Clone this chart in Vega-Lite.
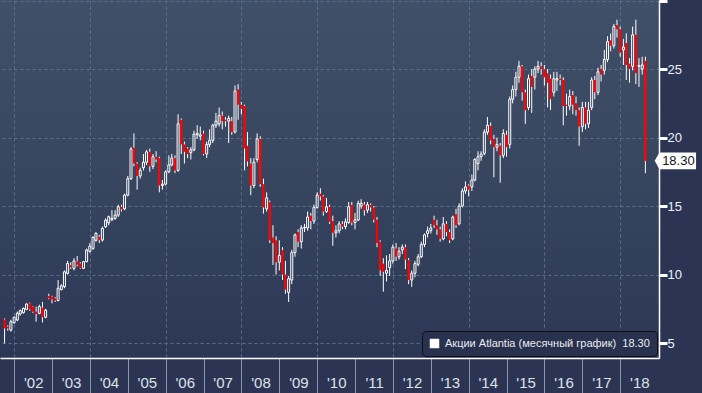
{
  "$schema": "https://vega.github.io/schema/vega-lite/v6.json",
  "width": 659,
  "height": 358,
  "autosize": {"type": "none"},
  "padding": {"left": 0, "top": 0, "right": 43, "bottom": 35},
  "background": "#2b3553",
  "view": {"stroke": null, "fill": {"gradient": "linear", "x1": 0, "y1": 0, "x2": 0, "y2": 1, "stops": [{"offset": 0, "color": "#415069"}, {"offset": 0.5, "color": "#37455f"}, {"offset": 1, "color": "#2c3755"}]}},
  "config": {"font": "Liberation Sans"},
  "data": {"values": [
    {"date":"2001-09-30","open":6.73,"high":6.8,"low":4.98,"close":6.07},
    {"date":"2001-10-31","open":6.2,"high":6.3,"low":5.9,"close":6.07},
    {"date":"2001-11-30","open":5.95,"high":6.7,"low":5.83,"close":6.56},
    {"date":"2001-12-31","open":6.49,"high":6.95,"low":6.4,"close":6.88},
    {"date":"2002-01-31","open":6.68,"high":7.3,"low":6.6,"close":7.17},
    {"date":"2002-02-28","open":7.12,"high":7.45,"low":7.0,"close":7.37},
    {"date":"2002-03-31","open":7.22,"high":7.6,"low":7.15,"close":7.53},
    {"date":"2002-04-30","open":7.46,"high":7.9,"low":7.4,"close":7.85},
    {"date":"2002-05-31","open":7.9,"high":7.95,"low":7.35,"close":7.46},
    {"date":"2002-06-30","open":7.66,"high":7.7,"low":7.2,"close":7.29},
    {"date":"2002-07-31","open":7.29,"high":7.66,"low":6.56,"close":7.12},
    {"date":"2002-08-31","open":7.17,"high":7.8,"low":7.1,"close":7.66},
    {"date":"2002-09-30","open":7.58,"high":8.0,"low":6.5,"close":6.88},
    {"date":"2002-10-31","open":6.88,"high":7.5,"low":6.8,"close":7.4},
    {"date":"2002-11-30","open":8.44,"high":8.6,"low":8.2,"close":8.27},
    {"date":"2002-12-31","open":8.39,"high":8.45,"low":7.9,"close":8.19},
    {"date":"2003-01-31","open":8.27,"high":8.35,"low":8.0,"close":8.1},
    {"date":"2003-02-28","open":8.1,"high":9.6,"low":8.05,"close":9.0},
    {"date":"2003-03-31","open":8.9,"high":9.3,"low":8.85,"close":9.17},
    {"date":"2003-04-30","open":9.12,"high":10.3,"low":9.0,"close":10.2},
    {"date":"2003-05-31","open":10.09,"high":11.0,"low":10.0,"close":10.81},
    {"date":"2003-06-30","open":10.69,"high":10.9,"low":10.4,"close":10.52},
    {"date":"2003-07-31","open":10.45,"high":11.2,"low":10.3,"close":10.99},
    {"date":"2003-08-31","open":10.96,"high":11.35,"low":10.6,"close":10.72},
    {"date":"2003-09-30","open":10.81,"high":10.9,"low":10.4,"close":10.45},
    {"date":"2003-10-31","open":10.45,"high":11.0,"low":10.4,"close":10.94},
    {"date":"2003-11-30","open":10.94,"high":11.9,"low":10.9,"close":11.79},
    {"date":"2003-12-31","open":11.69,"high":12.3,"low":11.6,"close":12.08},
    {"date":"2004-01-31","open":11.91,"high":12.8,"low":11.8,"close":12.71},
    {"date":"2004-02-28","open":12.5,"high":13.1,"low":12.4,"close":13.0},
    {"date":"2004-03-31","open":12.76,"high":12.9,"low":12.3,"close":12.52},
    {"date":"2004-04-30","open":12.52,"high":13.5,"low":12.4,"close":13.37},
    {"date":"2004-05-31","open":13.49,"high":14.1,"low":13.4,"close":13.97},
    {"date":"2004-06-30","open":13.78,"high":14.3,"low":13.6,"close":14.22},
    {"date":"2004-07-31","open":14.0,"high":14.7,"low":13.9,"close":14.1},
    {"date":"2004-08-31","open":14.1,"high":14.7,"low":14.0,"close":14.34},
    {"date":"2004-09-30","open":14.34,"high":15.1,"low":14.2,"close":14.95},
    {"date":"2004-10-31","open":14.95,"high":15.1,"low":14.6,"close":14.76},
    {"date":"2004-11-30","open":14.8,"high":15.9,"low":14.7,"close":15.8},
    {"date":"2004-12-31","open":15.8,"high":17.2,"low":15.7,"close":17.0},
    {"date":"2005-01-31","open":17.0,"high":19.3,"low":16.9,"close":19.16},
    {"date":"2005-02-28","open":19.26,"high":20.3,"low":17.9,"close":18.1},
    {"date":"2005-03-31","open":18.1,"high":18.2,"low":16.2,"close":17.2},
    {"date":"2005-04-30","open":17.2,"high":17.8,"low":17.0,"close":17.6},
    {"date":"2005-05-31","open":17.8,"high":18.8,"low":17.6,"close":18.2},
    {"date":"2005-06-30","open":18.2,"high":19.1,"low":18.0,"close":18.96},
    {"date":"2005-07-31","open":18.96,"high":19.2,"low":17.5,"close":17.9},
    {"date":"2005-08-31","open":17.9,"high":18.8,"low":17.7,"close":18.6},
    {"date":"2005-09-30","open":18.6,"high":19.0,"low":18.2,"close":18.4},
    {"date":"2005-10-31","open":18.5,"high":18.6,"low":16.0,"close":16.5},
    {"date":"2005-11-30","open":16.5,"high":16.9,"low":16.2,"close":16.6},
    {"date":"2005-12-31","open":16.6,"high":17.6,"low":16.5,"close":17.5},
    {"date":"2006-01-31","open":17.5,"high":18.7,"low":17.4,"close":18.0},
    {"date":"2006-02-28","open":18.0,"high":18.8,"low":17.9,"close":18.5},
    {"date":"2006-03-31","open":18.5,"high":18.7,"low":17.4,"close":17.6},
    {"date":"2006-04-30","open":17.6,"high":21.7,"low":17.5,"close":21.0},
    {"date":"2006-05-31","open":21.3,"high":21.4,"low":18.8,"close":19.5},
    {"date":"2006-06-30","open":19.5,"high":19.7,"low":18.1,"close":18.96},
    {"date":"2006-07-31","open":19.2,"high":19.3,"low":18.5,"close":18.8},
    {"date":"2006-08-31","open":18.9,"high":19.3,"low":18.4,"close":19.1},
    {"date":"2006-09-30","open":19.1,"high":20.5,"low":19.0,"close":20.25},
    {"date":"2006-10-31","open":20.2,"high":20.9,"low":19.9,"close":20.3},
    {"date":"2006-11-30","open":20.1,"high":20.8,"low":19.8,"close":20.2},
    {"date":"2006-12-31","open":20.3,"high":20.5,"low":18.7,"close":18.8},
    {"date":"2007-01-31","open":18.8,"high":19.7,"low":18.5,"close":19.5},
    {"date":"2007-02-28","open":19.5,"high":20.6,"low":19.3,"close":19.8},
    {"date":"2007-03-31","open":19.8,"high":21.0,"low":19.6,"close":20.9},
    {"date":"2007-04-30","open":20.9,"high":21.8,"low":20.7,"close":21.2},
    {"date":"2007-05-31","open":21.0,"high":22.2,"low":20.8,"close":21.6},
    {"date":"2007-06-30","open":21.6,"high":21.9,"low":20.6,"close":21.2},
    {"date":"2007-07-31","open":21.3,"high":21.5,"low":20.8,"close":21.2},
    {"date":"2007-08-31","open":21.2,"high":21.6,"low":19.6,"close":21.4},
    {"date":"2007-09-30","open":21.2,"high":21.5,"low":20.2,"close":20.4},
    {"date":"2007-10-31","open":20.4,"high":23.8,"low":20.3,"close":23.4},
    {"date":"2007-11-30","open":23.5,"high":23.9,"low":21.3,"close":22.4},
    {"date":"2007-12-31","open":22.4,"high":22.6,"low":21.7,"close":22.1},
    {"date":"2008-01-31","open":22.3,"high":22.4,"low":17.6,"close":19.2},
    {"date":"2008-02-28","open":19.4,"high":20.4,"low":17.9,"close":18.25},
    {"date":"2008-03-31","open":18.1,"high":18.5,"low":15.8,"close":16.5},
    {"date":"2008-04-30","open":16.5,"high":18.5,"low":16.3,"close":18.2},
    {"date":"2008-05-31","open":18.4,"high":20.3,"low":18.2,"close":19.9},
    {"date":"2008-06-30","open":19.9,"high":20.1,"low":16.4,"close":16.6},
    {"date":"2008-07-31","open":16.6,"high":17.0,"low":14.45,"close":14.9},
    {"date":"2008-08-31","open":14.8,"high":16.0,"low":14.6,"close":15.6},
    {"date":"2008-09-30","open":15.3,"high":15.4,"low":12.3,"close":12.5},
    {"date":"2008-10-31","open":12.7,"high":13.6,"low":10.7,"close":12.3},
    {"date":"2008-11-30","open":12.5,"high":12.8,"low":10.0,"close":10.9},
    {"date":"2008-12-31","open":10.9,"high":12.5,"low":10.3,"close":11.4},
    {"date":"2009-01-31","open":11.8,"high":12.0,"low":9.6,"close":10.0},
    {"date":"2009-02-28","open":10.0,"high":11.0,"low":8.6,"close":8.9},
    {"date":"2009-03-31","open":8.7,"high":9.9,"low":8.0,"close":9.7},
    {"date":"2009-04-30","open":9.6,"high":11.8,"low":9.3,"close":11.6},
    {"date":"2009-05-31","open":11.6,"high":13.0,"low":11.3,"close":12.9},
    {"date":"2009-06-30","open":13.1,"high":13.3,"low":12.0,"close":12.4},
    {"date":"2009-07-31","open":12.4,"high":13.6,"low":11.9,"close":13.4},
    {"date":"2009-08-31","open":13.4,"high":13.7,"low":13.1,"close":13.45},
    {"date":"2009-09-30","open":13.4,"high":14.6,"low":13.2,"close":14.2},
    {"date":"2009-10-31","open":14.3,"high":14.5,"low":13.3,"close":13.9},
    {"date":"2009-11-30","open":13.9,"high":15.1,"low":13.7,"close":14.9},
    {"date":"2009-12-31","open":14.9,"high":16.0,"low":14.8,"close":15.8},
    {"date":"2010-01-31","open":15.9,"high":16.3,"low":15.4,"close":15.7},
    {"date":"2010-02-28","open":15.7,"high":15.8,"low":14.3,"close":14.6},
    {"date":"2010-03-31","open":14.6,"high":15.6,"low":14.5,"close":14.95},
    {"date":"2010-04-30","open":14.95,"high":15.1,"low":13.7,"close":13.85},
    {"date":"2010-05-31","open":13.9,"high":14.3,"low":12.1,"close":13.05},
    {"date":"2010-06-30","open":13.05,"high":13.6,"low":12.7,"close":13.2},
    {"date":"2010-07-31","open":13.2,"high":13.9,"low":13.0,"close":13.7},
    {"date":"2010-08-31","open":13.7,"high":13.9,"low":13.3,"close":13.5},
    {"date":"2010-09-30","open":13.5,"high":14.1,"low":13.3,"close":13.85},
    {"date":"2010-10-31","open":13.8,"high":15.3,"low":13.7,"close":14.95},
    {"date":"2010-11-30","open":15.07,"high":15.3,"low":13.6,"close":13.8},
    {"date":"2010-12-31","open":13.8,"high":14.5,"low":13.3,"close":14.0},
    {"date":"2011-01-31","open":13.98,"high":15.4,"low":13.9,"close":15.2},
    {"date":"2011-02-28","open":15.0,"high":15.5,"low":14.8,"close":15.2},
    {"date":"2011-03-31","open":15.1,"high":15.3,"low":14.3,"close":14.7},
    {"date":"2011-04-30","open":14.7,"high":15.3,"low":14.5,"close":15.1},
    {"date":"2011-05-31","open":15.1,"high":15.2,"low":14.6,"close":14.9},
    {"date":"2011-06-30","open":14.9,"high":15.0,"low":13.8,"close":14.0},
    {"date":"2011-07-31","open":14.0,"high":14.2,"low":12.0,"close":12.3},
    {"date":"2011-08-31","open":12.4,"high":12.5,"low":9.9,"close":10.3},
    {"date":"2011-09-30","open":10.8,"high":11.2,"low":8.75,"close":10.2},
    {"date":"2011-10-31","open":10.1,"high":11.4,"low":9.5,"close":10.3},
    {"date":"2011-11-30","open":10.5,"high":11.5,"low":9.9,"close":11.0},
    {"date":"2011-12-31","open":11.0,"high":12.2,"low":10.8,"close":12.0},
    {"date":"2012-01-31","open":11.9,"high":12.3,"low":11.0,"close":11.3},
    {"date":"2012-02-28","open":11.3,"high":12.0,"low":11.1,"close":11.7},
    {"date":"2012-03-31","open":11.8,"high":12.2,"low":11.5,"close":12.0},
    {"date":"2012-04-30","open":12.0,"high":12.2,"low":10.4,"close":11.1},
    {"date":"2012-05-31","open":11.05,"high":11.2,"low":9.3,"close":9.6},
    {"date":"2012-06-30","open":9.6,"high":10.3,"low":9.1,"close":10.1},
    {"date":"2012-07-31","open":10.1,"high":11.0,"low":9.8,"close":10.8},
    {"date":"2012-08-31","open":10.75,"high":11.5,"low":10.6,"close":11.3},
    {"date":"2012-09-30","open":11.3,"high":12.4,"low":11.2,"close":12.2},
    {"date":"2012-10-31","open":12.2,"high":13.0,"low":12.0,"close":12.9},
    {"date":"2012-11-30","open":13.0,"high":13.5,"low":12.7,"close":13.2},
    {"date":"2012-12-31","open":13.2,"high":13.7,"low":13.0,"close":13.4},
    {"date":"2013-01-31","open":14.0,"high":14.3,"low":13.4,"close":13.6},
    {"date":"2013-02-28","open":13.6,"high":14.0,"low":12.9,"close":13.3},
    {"date":"2013-03-31","open":13.3,"high":13.5,"low":12.4,"close":12.6},
    {"date":"2013-04-30","open":12.6,"high":14.2,"low":12.5,"close":13.7},
    {"date":"2013-05-31","open":13.7,"high":13.9,"low":12.8,"close":13.1},
    {"date":"2013-06-30","open":13.1,"high":13.3,"low":12.3,"close":12.5},
    {"date":"2013-07-31","open":12.6,"high":14.3,"low":12.5,"close":14.2},
    {"date":"2013-08-31","open":14.4,"high":14.8,"low":13.4,"close":13.6},
    {"date":"2013-09-30","open":13.7,"high":15.2,"low":13.6,"close":15.0},
    {"date":"2013-10-31","open":15.0,"high":16.3,"low":14.9,"close":16.1},
    {"date":"2013-11-30","open":16.1,"high":16.8,"low":15.9,"close":16.4},
    {"date":"2013-12-31","open":16.5,"high":16.6,"low":15.7,"close":16.2},
    {"date":"2014-01-31","open":16.4,"high":17.3,"low":16.1,"close":16.9},
    {"date":"2014-02-28","open":16.9,"high":18.5,"low":16.8,"close":18.4},
    {"date":"2014-03-31","open":18.1,"high":19.0,"low":17.6,"close":18.6},
    {"date":"2014-04-30","open":18.6,"high":19.0,"low":18.3,"close":18.8},
    {"date":"2014-05-31","open":18.85,"high":20.6,"low":18.7,"close":20.4},
    {"date":"2014-06-30","open":20.4,"high":21.5,"low":20.2,"close":20.9},
    {"date":"2014-07-31","open":20.85,"high":21.1,"low":19.5,"close":19.8},
    {"date":"2014-08-31","open":19.9,"high":20.2,"low":17.1,"close":19.3},
    {"date":"2014-09-30","open":19.3,"high":20.0,"low":19.0,"close":19.5},
    {"date":"2014-10-31","open":19.4,"high":19.6,"low":16.7,"close":18.7},
    {"date":"2014-11-30","open":18.7,"high":20.6,"low":18.5,"close":20.3},
    {"date":"2014-12-31","open":20.2,"high":20.5,"low":18.6,"close":19.3},
    {"date":"2015-01-31","open":19.5,"high":23.0,"low":19.2,"close":22.8},
    {"date":"2015-02-28","open":22.8,"high":23.8,"low":22.5,"close":23.5},
    {"date":"2015-03-31","open":23.5,"high":24.8,"low":23.0,"close":24.4},
    {"date":"2015-04-30","open":24.4,"high":25.6,"low":24.0,"close":25.2},
    {"date":"2015-05-31","open":25.2,"high":25.3,"low":22.7,"close":23.3},
    {"date":"2015-06-30","open":23.3,"high":23.5,"low":21.0,"close":22.0},
    {"date":"2015-07-31","open":22.2,"high":24.6,"low":22.0,"close":24.3},
    {"date":"2015-08-31","open":24.5,"high":25.0,"low":21.8,"close":23.7},
    {"date":"2015-09-30","open":24.4,"high":25.2,"low":23.5,"close":25.0},
    {"date":"2015-10-31","open":25.0,"high":25.6,"low":24.7,"close":25.2},
    {"date":"2015-11-30","open":25.2,"high":25.5,"low":24.6,"close":25.0},
    {"date":"2015-12-31","open":25.0,"high":25.3,"low":23.8,"close":24.4},
    {"date":"2016-01-31","open":24.7,"high":25.0,"low":22.2,"close":24.0},
    {"date":"2016-02-28","open":24.3,"high":24.6,"low":22.0,"close":22.8},
    {"date":"2016-03-31","open":23.3,"high":24.8,"low":23.0,"close":24.3},
    {"date":"2016-04-30","open":24.2,"high":24.8,"low":23.4,"close":24.3},
    {"date":"2016-05-31","open":24.3,"high":24.6,"low":23.8,"close":24.2},
    {"date":"2016-06-30","open":24.2,"high":24.4,"low":20.9,"close":22.3},
    {"date":"2016-07-31","open":22.4,"high":23.2,"low":21.6,"close":22.3},
    {"date":"2016-08-31","open":22.3,"high":23.5,"low":22.0,"close":23.0},
    {"date":"2016-09-30","open":23.1,"high":23.4,"low":21.7,"close":22.4},
    {"date":"2016-10-31","open":22.5,"high":23.0,"low":21.6,"close":22.0},
    {"date":"2016-11-30","open":22.0,"high":22.2,"low":19.4,"close":20.8},
    {"date":"2016-12-31","open":20.8,"high":22.6,"low":20.4,"close":22.2},
    {"date":"2017-01-31","open":22.2,"high":22.6,"low":20.6,"close":21.0},
    {"date":"2017-02-28","open":21.0,"high":22.6,"low":20.7,"close":22.0},
    {"date":"2017-03-31","open":22.2,"high":24.4,"low":22.0,"close":24.2},
    {"date":"2017-04-30","open":24.2,"high":24.5,"low":22.8,"close":23.3},
    {"date":"2017-05-31","open":23.3,"high":25.1,"low":23.1,"close":24.8},
    {"date":"2017-06-30","open":25.0,"high":25.3,"low":24.1,"close":24.6},
    {"date":"2017-07-31","open":24.9,"high":26.4,"low":24.6,"close":25.7},
    {"date":"2017-08-31","open":25.7,"high":27.4,"low":25.5,"close":27.0},
    {"date":"2017-09-30","open":27.1,"high":27.6,"low":26.3,"close":26.7},
    {"date":"2017-10-31","open":26.7,"high":28.3,"low":26.5,"close":28.1},
    {"date":"2017-11-30","open":28.2,"high":28.6,"low":27.3,"close":27.9},
    {"date":"2017-12-31","open":27.9,"high":28.1,"low":25.9,"close":26.2},
    {"date":"2018-01-31","open":26.4,"high":27.2,"low":25.3,"close":26.6},
    {"date":"2018-02-28","open":26.9,"high":27.6,"low":24.2,"close":25.3},
    {"date":"2018-03-31","open":25.4,"high":25.8,"low":24.0,"close":25.0},
    {"date":"2018-04-30","open":25.2,"high":28.1,"low":24.9,"close":27.5},
    {"date":"2018-05-31","open":27.5,"high":28.6,"low":23.9,"close":24.7},
    {"date":"2018-06-30","open":25.2,"high":25.8,"low":23.7,"close":25.25},
    {"date":"2018-07-31","open":25.0,"high":25.9,"low":24.6,"close":25.3},
    {"date":"2018-08-31","open":25.6,"high":25.9,"low":17.4,"close":18.3}
  ]},
  "encoding": {
    "x": {
      "field": "date",
      "type": "temporal",
      "scale": {"type": "utc", "nice": false, "domain": [{"year": 2001, "month": 10, "date": 4, "utc": true}, {"year": 2018, "month": 11, "date": 22, "utc": true}]},
      "axis": {
        "title": null,
        "format": "'%y",
        "values": [
          {"year": 2002, "month": 1, "date": 1, "utc": true},
          {"year": 2003, "month": 1, "date": 1, "utc": true},
          {"year": 2004, "month": 1, "date": 1, "utc": true},
          {"year": 2005, "month": 1, "date": 1, "utc": true},
          {"year": 2006, "month": 1, "date": 1, "utc": true},
          {"year": 2007, "month": 1, "date": 1, "utc": true},
          {"year": 2008, "month": 1, "date": 1, "utc": true},
          {"year": 2009, "month": 1, "date": 1, "utc": true},
          {"year": 2010, "month": 1, "date": 1, "utc": true},
          {"year": 2011, "month": 1, "date": 1, "utc": true},
          {"year": 2012, "month": 1, "date": 1, "utc": true},
          {"year": 2013, "month": 1, "date": 1, "utc": true},
          {"year": 2014, "month": 1, "date": 1, "utc": true},
          {"year": 2015, "month": 1, "date": 1, "utc": true},
          {"year": 2016, "month": 1, "date": 1, "utc": true},
          {"year": 2017, "month": 1, "date": 1, "utc": true},
          {"year": 2018, "month": 1, "date": 1, "utc": true}
        ],
        "labelOffset": 19,
        "labelAlign": "center",
        "labelFlush": false,
        "labelOverlap": false,
        "labelColor": "#dde1e8",
        "labelFontSize": 15,
        "labelPadding": -18,
        "tickSize": 35,
        "tickColor": "#8e97aa",
        "tickWidth": 1,
        "domainColor": "#ffffff",
        "domainWidth": 1.5,
        "grid": true,
        "gridColor": "#56718e",
        "gridDash": [3, 3],
        "gridWidth": 1,
        "gridOpacity": {"condition": {"test": "utcyear(datum.value) % 2 === 0", "value": 1}, "value": 0}
      }
    }
  },
  "layer": [
    {
      "mark": {"type": "rule", "color": "#ffffff", "strokeWidth": 1},
      "encoding": {
        "y": {
          "field": "low",
          "type": "quantitative",
          "title": null,
          "scale": {"domain": [3.91, 30.04], "nice": false, "zero": false},
          "axis": {
            "orient": "right",
            "title": null,
            "values": [5, 7.5, 10, 12.5, 15, 17.5, 20, 22.5, 25, 27.5, 30],
            "labelExpr": "datum.value % 5 === 0 && datum.value < 30 ? format(datum.value, 'd') : ''",
            "labelColor": "#eef0f4",
            "labelFontSize": 13,
            "labelPadding": 0,
            "labelBaseline": "middle",
            "tickColor": "#ffffff",
            "tickSize": {"condition": {"test": "datum.value % 5 === 0", "value": 8}, "value": 5},
            "tickWidth": {"condition": {"test": "datum.value % 5 === 0", "value": 3}, "value": 1},
            "domainColor": "#ffffff",
            "domainWidth": 1.5,
            "grid": true,
            "gridColor": "#56718e",
            "gridDash": [3, 3],
            "gridWidth": 1,
            "gridOpacity": {"condition": {"test": "datum.value % 5 === 0", "value": 1}, "value": 0}
          }
        },
        "y2": {"field": "high"}
      }
    },
    {
      "transform": [{"filter": "datum.close >= datum.open"}],
      "mark": {"type": "bar", "size": 2, "stroke": "#ffffff", "strokeWidth": 1},
      "encoding": {
        "y": {"field": "open", "type": "quantitative", "title": null},
        "y2": {"field": "close"},
        "fill": {"field": "open", "type": "quantitative", "scale": {"domain": [3.91, 30.04], "range": ["#2c3755", "#415069"]}, "legend": null}
      }
    },
    {
      "transform": [{"filter": "datum.close < datum.open"}],
      "mark": {"type": "bar", "size": 2.3, "color": "#ff0000"},
      "encoding": {
        "y": {"field": "open", "type": "quantitative", "title": null},
        "y2": {"field": "close"}
      }
    },
    {
      "transform": [{"filter": "utcyear(datum.date) === 2018 && utcmonth(datum.date) === 7"}],
      "mark": {"type": "point", "shape": "M-1,0L-0.77,-0.4L1,-0.4L1,0.4L-0.77,0.4Z", "size": 1714, "filled": true, "opacity": 1, "xOffset": 30, "strokeWidth": 0},
      "encoding": {
        "y": {"field": "close", "type": "quantitative", "title": null},
        "color": {
          "datum": "Акции Atlantia (месячный график)\u00a0\u00a018.30",
          "type": "nominal",
          "scale": {"range": ["#ffffff"]},
          "legend": {
            "title": null,
            "orient": "bottom-right",
            "offset": 2,
            "padding": 7,
            "fillColor": "#28314d",
            "strokeColor": "#0b0f1a",
            "cornerRadius": 4,
            "symbolType": "square",
            "symbolSize": 90,
            "symbolFillColor": "#ffffff",
            "symbolStrokeWidth": 0,
            "symbolOpacity": 1,
            "labelColor": "#e9ecf1",
            "labelFontSize": 11,
            "labelLimit": 400,
            "labelOffset": 5
          }
        }
      }
    },
    {
      "transform": [{"filter": "utcyear(datum.date) === 2018 && utcmonth(datum.date) === 7"}],
      "mark": {"type": "text", "dx": 33, "align": "center", "baseline": "middle", "fontSize": 13, "color": "#151515"},
      "encoding": {
        "y": {"field": "close", "type": "quantitative", "title": null},
        "text": {"field": "close", "type": "quantitative", "format": ".2f"}
      }
    }
  ]
}
